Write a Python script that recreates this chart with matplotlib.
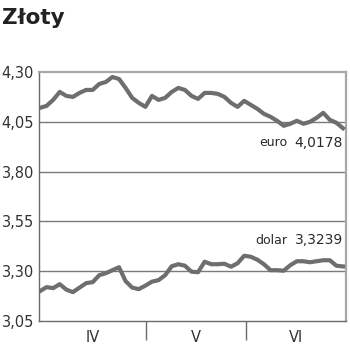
import matplotlib
matplotlib.use("Agg")
import matplotlib.pyplot as plt
import numpy as np

title = "Złoty"
months = ["IV", "V", "VI"]
yticks = [3.05, 3.30, 3.55, 3.80, 4.05, 4.30]
ytick_labels = ["3,05", "3,30", "3,55", "3,80", "4,05", "4,30"]

euro = [4.12, 4.13, 4.16, 4.20, 4.18, 4.175, 4.195, 4.21, 4.21, 4.24, 4.25, 4.275,
        4.265, 4.22, 4.17, 4.145, 4.125, 4.18, 4.16, 4.17, 4.20, 4.22, 4.21, 4.18,
        4.165, 4.195, 4.195, 4.19, 4.175, 4.145, 4.125, 4.155, 4.135, 4.115, 4.09,
        4.075, 4.055, 4.03, 4.04, 4.055, 4.04, 4.05, 4.07, 4.095, 4.06, 4.045, 4.0178]
dolar = [3.20, 3.22, 3.215, 3.235, 3.2075, 3.195, 3.2175, 3.24, 3.245, 3.28, 3.29,
         3.305, 3.32, 3.25, 3.2175, 3.21, 3.2275, 3.2475, 3.255, 3.28, 3.325, 3.335,
         3.3275, 3.2975, 3.295, 3.3475, 3.335, 3.335, 3.3375, 3.3225, 3.34, 3.3775,
         3.3725, 3.3575, 3.335, 3.305, 3.305, 3.3025, 3.33, 3.35, 3.35, 3.345, 3.35,
         3.355, 3.355, 3.3275, 3.3239]
euro_label = ("euro", "4,0178")
dolar_label = ("dolar", "3,3239")

x = np.arange(len(euro))
month_bounds = [-0.15, 16.09, 31.27, 46.46]

fig = plt.figure(figsize=(3.5, 3.53), dpi=100)
ax = fig.add_axes([39/350, 1-321/353, (346-39)/350, (321-72)/353])
ax.set_xlim(month_bounds[0], month_bounds[-1])
ax.set_ylim(3.05, 4.30)

line_col = "#6e6e6e"
for v in yticks[1:-1]:
    ax.axhline(v, color="#7a7a7a", lw=1.0, zorder=1)

ax.plot(x, euro, color=line_col, lw=3.0, solid_joinstyle="round", zorder=3)
ax.plot(x, dolar, color=line_col, lw=3.0, solid_joinstyle="round", zorder=3)

for s in ["top", "right"]:
    ax.spines[s].set_color("#a8a8a8")
    ax.spines[s].set_linewidth(1.6)
ax.spines["left"].set_color("#6a6a6a")
ax.spines["bottom"].set_color("#6a6a6a")
ax.spines["left"].set_linewidth(1.0)
ax.spines["bottom"].set_linewidth(1.0)

ax.set_yticks(yticks)
ax.set_yticklabels(ytick_labels, fontsize=10.5, color="#333333")
ax.tick_params(axis="y", length=0, pad=3.5)

ax.set_xticks(month_bounds[1:-1])
ax.set_xticklabels([])
ax.tick_params(axis="x", length=14, width=1.0, color="#6a6a6a", direction="out")
centers = [(month_bounds[i] + month_bounds[i+1]) / 2 for i in range(3)]
for c, m in zip(centers, months):
    ax.text(c, -0.065, m, transform=ax.get_xaxis_transform(), ha="center", va="center",
            fontsize=10.5, color="#333333")

for vals, lab, ypos in [(euro, euro_label, 3.945), (dolar, dolar_label, 3.455)]:
    ax.annotate(lab[1], xy=(x[-1], ypos), xytext=(0, 0), textcoords="offset points",
                ha="right", va="center", fontsize=10, color="#2a2a2a")
    ax.annotate(lab[0], xy=(x[-1], ypos), xytext=(-40, 0), textcoords="offset points",
                ha="right", va="center", fontsize=9, color="#2a2a2a")

fig.text(2/350, 1-18/353, title, ha="left", va="center", fontsize=15.5,
         fontweight="bold", color="#222222")

fig.savefig("out.png", dpi=100)
